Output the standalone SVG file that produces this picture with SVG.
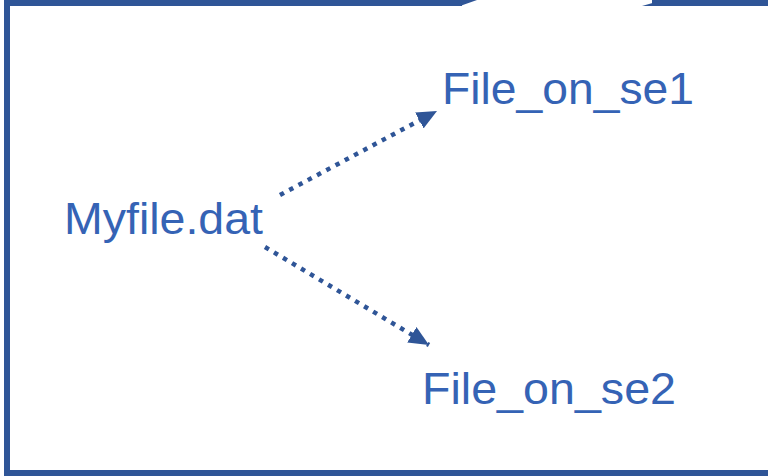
<svg xmlns="http://www.w3.org/2000/svg" width="768" height="476" viewBox="0 0 768 476">
<style>
.lbl{font-family:"Liberation Sans",Arial,sans-serif;font-size:44px;fill:#3563B5}
.frame{fill:none;stroke:#2F5597;stroke-width:6}
.conn{fill:none;stroke:#2F5597;stroke-width:4.5;stroke-dasharray:4.5 6}
</style>
<defs>
<marker id="ah" markerUnits="userSpaceOnUse" markerWidth="22" markerHeight="18" refX="20" refY="9" orient="auto">
<path d="M0,0 L20,9 L0,18 Z" fill="#2F5597"/>
</marker>
</defs>
<rect width="768" height="476" fill="#fff"/>
<g id="frame">
<path class="frame" d="M462,3 L7,3 L7,473 L775,473"/>
<polygon points="460,6 477,0 462,0 462,6" fill="#2F5597"/>
<path class="frame" d="M775,3 L652,3"/>
<polygon points="642,6 663,0 663,6" fill="#2F5597"/>
</g>
<g id="connectors">
<path class="conn" d="M280,195 L437,111" marker-end="url(#ah)"/>
<path class="conn" d="M265,247 L429,345" marker-end="url(#ah)"/>
</g>
<g id="node-myfile"><text class="lbl" x="64" y="234" textLength="199" lengthAdjust="spacingAndGlyphs">Myfile.dat</text></g>
<g id="node-se1"><text class="lbl" x="442" y="104" textLength="252" lengthAdjust="spacingAndGlyphs">File_on_se1</text></g>
<g id="node-se2"><text class="lbl" x="422" y="404" textLength="254" lengthAdjust="spacingAndGlyphs">File_on_se2</text></g>
</svg>
